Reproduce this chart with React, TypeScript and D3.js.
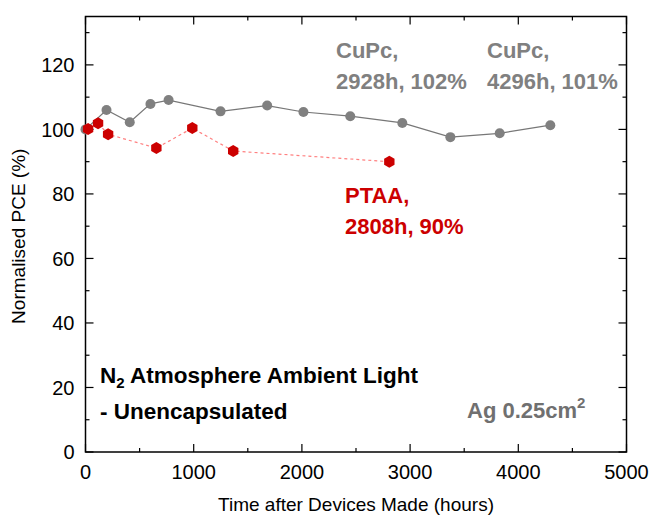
import React from "react";
import * as d3 from "d3";

const cupcTime = [0, 194, 409, 600, 768, 1248, 1679, 2014, 2447, 2928, 3372, 3828, 4296];
const cupcPCE = [100, 106.0, 102.2, 107.9, 109.1, 105.6, 107.4, 105.4, 104.1, 102, 97.6, 98.8, 101.3];
const ptaaTime = [24, 116, 209, 655, 987, 1365, 2808];
const ptaaPCE = [100.1, 101.9, 98.5, 94.2, 100.4, 93.3, 90];
const xTicks = [0, 1000, 2000, 3000, 4000, 5000];
const yTicks = [0, 20, 40, 60, 80, 100, 120];

const W = 653, H = 520;
const m = { left: 85.5, right: 626.5, top: 16.5, bottom: 452 };
const font = "'Liberation Sans', Arial, sans-serif";

export default function App() {
  const x = d3.scaleLinear().domain([0, 5000]).range([m.left, m.right]);
  const y = d3.scaleLinear().domain([0, 135]).range([m.bottom, m.top]);
  const cupc = cupcTime.map((t, i) => [t, cupcPCE[i]] as [number, number]);
  const ptaa = ptaaTime.map((t, i) => [t, ptaaPCE[i]] as [number, number]);
  const line = d3.line<[number, number]>().x(d => x(d[0])).y(d => y(d[1]));
  const xMinor = d3.range(0, 5001, 500);
  const yMinor = d3.range(0, 131, 10);
  const hex = (cx: number, cy: number, r: number) =>
    d3.range(6).map(k => {
      const a = Math.PI / 6 + (k * Math.PI) / 3;
      return `${cx + r * Math.cos(a)},${cy + r * Math.sin(a)}`;
    }).join(" ");

  return (
    <svg width={W} height={H} style={{ display: "block", position: "absolute", left: 0, top: 0 }} fontFamily={font}>
      <rect width={W} height={H} fill="#fff" />
      {xMinor.map(v => {
        const len = v % 1000 === 0 ? 8 : 4;
        return (
          <g key={"x" + v} stroke="#000" strokeWidth={1.2}>
            <line x1={x(v)} x2={x(v)} y1={m.bottom} y2={m.bottom - len} />
            <line x1={x(v)} x2={x(v)} y1={m.top} y2={m.top + len} />
          </g>
        );
      })}
      {yMinor.map(v => {
        const len = v % 20 === 0 ? 8 : 4;
        return (
          <g key={"y" + v} stroke="#000" strokeWidth={1.2}>
            <line x1={m.left} x2={m.left + len} y1={y(v)} y2={y(v)} />
            <line x1={m.right} x2={m.right - len} y1={y(v)} y2={y(v)} />
          </g>
        );
      })}
      <rect x={m.left} y={m.top} width={m.right - m.left} height={m.bottom - m.top} fill="none" stroke="#000" strokeWidth={1.5} />
      {xTicks.map(v => (
        <text key={"xl" + v} x={x(v)} y={m.bottom + 27} textAnchor="middle" fontSize={20} fill="#000">{v}</text>
      ))}
      {yTicks.map(v => (
        <text key={"yl" + v} x={m.left - 11} y={y(v) + 7.3} textAnchor="end" fontSize={20} fill="#000">{v}</text>
      ))}
      <text x={(m.left + m.right) / 2} y={511} textAnchor="middle" fontSize={19} fill="#000">Time after Devices Made (hours)</text>
      <text transform={`translate(25,${(m.top + m.bottom) / 2 + 2}) rotate(-90)`} textAnchor="middle" fontSize={19} fill="#000">Normalised PCE (%)</text>

      <path d={line(cupc) || ""} fill="none" stroke="#777" strokeWidth={1.2} />
      {cupc.map((d, i) => (
        <circle key={"c" + i} cx={x(d[0])} cy={y(d[1])} r={5} fill="#808080" />
      ))}
      <path d={line(ptaa) || ""} fill="none" stroke="#ff8080" strokeWidth={1.2} strokeDasharray="3,3" />
      {ptaa.map((d, i) => (
        <polygon key={"p" + i} points={hex(x(d[0]), y(d[1]), 6)} fill="#cc0000" />
      ))}

      <g fontSize={22} fontWeight="bold">
        <text x={336} y={58} fill="#808080">CuPc,</text>
        <text x={336} y={89} fill="#808080">2928h, 102%</text>
        <text x={487} y={58} fill="#808080">CuPc,</text>
        <text x={487} y={89} fill="#808080">4296h, 101%</text>
        <text x={345} y={203} fill="#cc0000">PTAA,</text>
        <text x={345} y={234} fill="#cc0000">2808h, 90%</text>
        <text x={100} y={383} fontSize={22.5} fill="#000">N<tspan fontSize={15} dy={5}>2</tspan><tspan dy={-5}> Atmosphere Ambient Light</tspan></text>
        <text x={100} y={419} fontSize={22.5} fill="#000">- Unencapsulated</text>
        <text x={467} y={418} fill="#707070" fontSize={22}>Ag 0.25cm<tspan fontSize={15} dy={-10}>2</tspan></text>
      </g>
    </svg>
  );
}
